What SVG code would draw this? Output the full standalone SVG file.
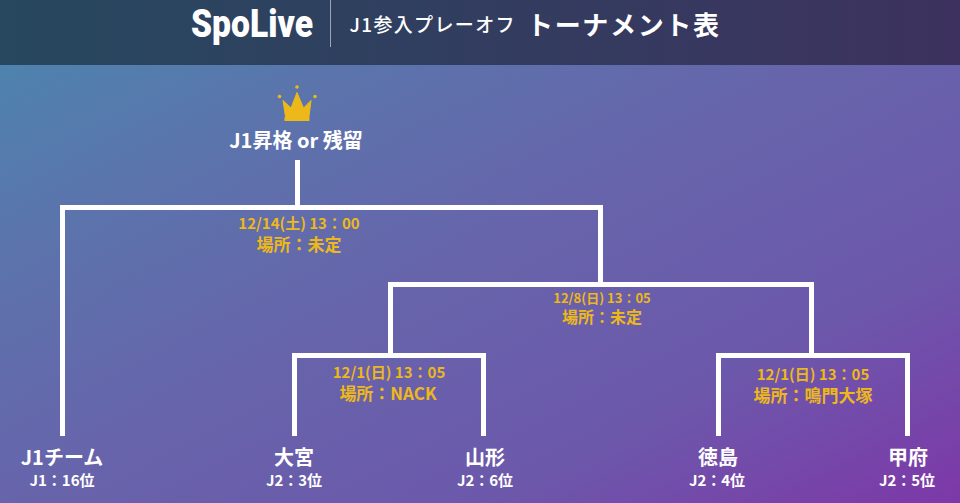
<svg xmlns="http://www.w3.org/2000/svg" width="960" height="503" viewBox="0 0 960 503">
<defs>
<linearGradient id="bg" x1="0" y1="0" x2="1" y2="1">
<stop offset="0" stop-color="#4a88ae"/><stop offset="0.25" stop-color="#5b74ac"/><stop offset="0.5" stop-color="#6764ab"/><stop offset="0.75" stop-color="#6c58ab"/><stop offset="1" stop-color="#7d38a8"/>
</linearGradient>
<linearGradient id="hd" x1="0" y1="0" x2="1" y2="0">
<stop offset="0" stop-color="#27485f"/><stop offset="1" stop-color="#3d325f"/>
</linearGradient>
<style>
text{font-family:"Noto Sans CJK JP","Noto Sans",sans-serif;font-weight:700;text-anchor:middle}
.w{fill:#fff}
.y{fill:#edb81a}
.big{font-size:20px}
.sm{font-size:15px}
.d{font-size:15px}
.p{font-size:17px}
.line{fill:none;stroke:#fff;stroke-width:5;stroke-linecap:butt;stroke-linejoin:miter}
</style>
</defs>
<rect id="background" width="960" height="503" fill="url(#bg)"/>
<g id="header">
<rect width="960" height="65" fill="url(#hd)"/>
<text class="w" x="252" y="37" font-size="38" textLength="122" lengthAdjust="spacingAndGlyphs" style="font-family:'Roboto',sans-serif;font-weight:900">SpoLive</text>
<rect x="330" y="0" width="1" height="47" fill="#9aa6b4"/>
<text class="w" x="432" y="32" font-size="19" textLength="165" lengthAdjust="spacing" style="font-weight:500">J1参入プレーオフ</text>
<text class="w" x="623" y="35" font-size="26" textLength="192" lengthAdjust="spacing">トーナメント表</text>
</g>
<g id="connectors">
<path class="line" d="M297.500 160V207.500M62.500 436V207.500H600.500V283"/>
<path class="line" d="M390.500 355.500V284.500H811.500V355.500"/>
<path class="line" d="M294.500 436V355.500H483.500V436"/>
<path class="line" d="M718.500 436V355.500H907.500V436"/>
</g>
<g id="winner">
<path d="M283 100.500 L291 108 L297 92.500 L303.500 108 L311 100.500 L309 116.500 H285.500Z" fill="#edb81a" stroke="#edb81a" stroke-width="1"/>
<rect x="284.500" y="117" width="25" height="4" fill="#edb81a"/>
<circle cx="297" cy="87" r="1.800" fill="#edb81a"/><circle cx="279.500" cy="96.500" r="1.800" fill="#edb81a"/><circle cx="315" cy="96.500" r="1.800" fill="#edb81a"/>
<text class="w" x="296" y="148" font-size="20">J1昇格 or 残留</text>
</g>
<g id="final-label"><text class="y d" x="299" y="229">12/14(土) 13：00</text><text class="y p" x="299" y="251">場所：未定</text></g>
<g id="semi-label"><text class="y" font-size="13" x="602" y="303">12/8(日) 13：05</text><text class="y" font-size="16" x="602" y="323">場所：未定</text></g>
<g id="match-a-label"><text class="y d" x="389" y="378">12/1(日) 13：05</text><text class="y p" x="388" y="400">場所：NACK</text></g>
<g id="match-b-label"><text class="y d" x="813" y="380">12/1(日) 13：05</text><text class="y p" x="813" y="402">場所：鳴門大塚</text></g>
<g id="team-j1"><text class="w big" x="62" y="465">J1チーム</text><text class="w sm" x="62" y="486">J1：16位</text></g>
<g id="team-omiya"><text class="w big" x="294" y="465">大宮</text><text class="w sm" x="294" y="486">J2：3位</text></g>
<g id="team-yamagata"><text class="w big" x="485" y="465">山形</text><text class="w sm" x="485" y="486">J2：6位</text></g>
<g id="team-tokushima"><text class="w big" x="718" y="465">徳島</text><text class="w sm" x="717" y="486">J2：4位</text></g>
<g id="team-kofu"><text class="w big" x="908" y="465">甲府</text><text class="w sm" x="907" y="486">J2：5位</text></g>
</svg>
